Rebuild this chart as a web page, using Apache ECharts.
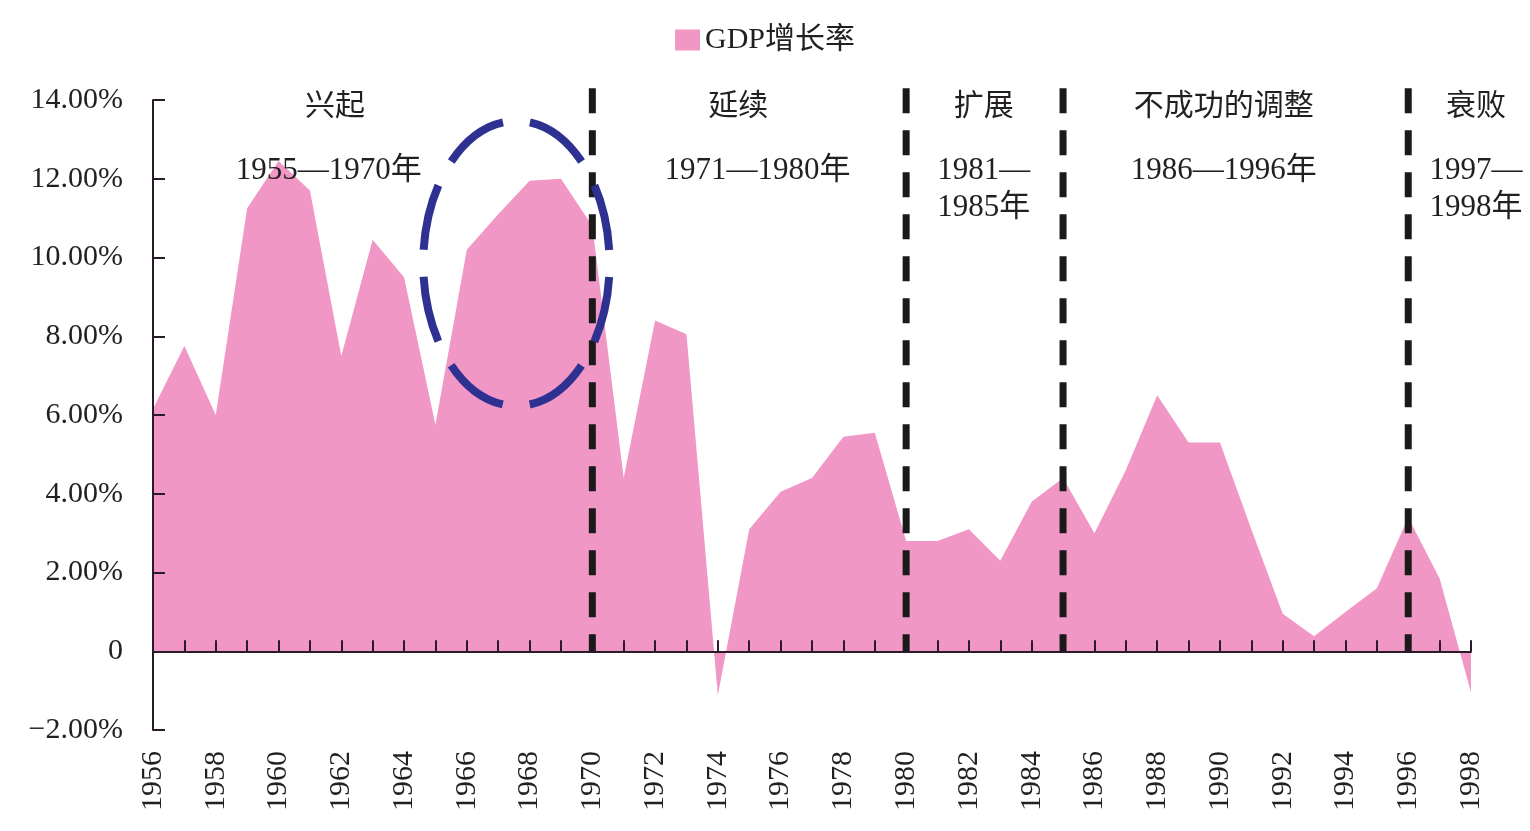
<!DOCTYPE html>
<html>
<head>
<meta charset="utf-8">
<script src="https://cdn.jsdelivr.net/npm/echarts@6/dist/echarts.min.js"></script>
<style>html,body{margin:0;padding:0;background:#fff;}#c{width:1530px;height:831px;}</style>
</head>
<body>
<div id="c"></div>
<script>
const years = [];
for (let y = 1956; y <= 1998; y++) years.push(String(y));
const gdpGrowth = [6.15, 7.75, 6.0, 11.25, 12.45, 11.7, 7.5, 10.45, 9.5, 5.75, 10.2, 11.1, 11.95, 12.0, 10.8,
  4.4, 8.4, 8.05, -1.12, 3.1, 4.05, 4.4, 5.45, 5.55, 2.8, 2.8, 3.1, 2.3, 3.8, 4.4,
  3.0, 4.6, 6.5, 5.3, 5.3, 3.1, 0.95, 0.38, 1.0, 1.6, 3.4, 1.85, -1.05];
const dividerYears = ['1970', '1980', '1985', '1996'];
const periodTitles = ['兴起', '延续', '扩展', '不成功的调整', '衰败'];
const periodRanges = [['1955—1970年'], ['1971—1980年'], ['1981—', '1985年'], ['1986—1996年'], ['1997—', '1998年']];
const seriesName = 'GDP增长率';

const FONT = '"Liberation Serif", "Times New Roman", "Noto Sans CJK SC", serif';
const TXT = '#231F20';
const AX = '#2a1a2a';
const chart = echarts.init(document.getElementById('c'));

const option = {
  animation: false,
  backgroundColor: '#fff',
  textStyle: { fontFamily: FONT },
  legend: {
    top: 20, left: 'center',
    itemWidth: 25, itemHeight: 21, itemGap: 10,
    icon: 'rect',
    textStyle: { fontFamily: FONT, fontSize: 30, color: TXT },
    data: [seriesName]
  },
  grid: { left: 153, right: 59, top: 100, bottom: 101, containLabel: false },
  xAxis: [{
    type: 'category', data: years, boundaryGap: false, z: 5,
    axisLine: { onZero: true, lineStyle: { color: AX, width: 2 } },
    axisTick: { show: true, inside: true, length: 11, interval: 0, lineStyle: { color: AX, width: 2 } },
    axisLabel: { show: false }, splitLine: { show: false }
  }, {
    type: 'category', data: years, boundaryGap: false, position: 'bottom',
    axisLine: { show: false, onZero: false }, axisTick: { show: false },
    axisLabel: { show: true, interval: 1, rotate: 90, margin: 21, fontSize: 30, fontFamily: FONT, color: TXT },
    splitLine: { show: false }
  }],
  yAxis: {
    type: 'value', min: -2, max: 14, interval: 2, z: 5,
    axisLine: { show: true, lineStyle: { color: AX, width: 2 } },
    axisTick: { show: true, inside: true, length: 12, lineStyle: { color: AX, width: 2 } },
    axisLabel: {
      margin: 30, fontSize: 30, fontFamily: FONT, color: TXT, padding: [10, 0, 0, 0],
      formatter: v => v === 0 ? '0' : (v < 0 ? '\u2212' : '') + Math.abs(v).toFixed(2) + '%'
    },
    splitLine: { show: false }
  },
  series: [{
    name: seriesName, type: 'line', xAxisIndex: 0, data: gdpGrowth,
    symbol: 'none', lineStyle: { width: 0, color: '#F197C5' },
    itemStyle: { color: '#F197C5' },
    areaStyle: { color: '#F197C5', opacity: 1 },
    z: 2
  }]
};
chart.setOption(option);

function px(idx, val) {
  const a = chart.convertToPixel({ gridIndex: 0 }, [0, val]);
  const b = chart.convertToPixel({ gridIndex: 0 }, [1, val]);
  return [a[0] + (b[0] - a[0]) * idx, a[1]];
}
const g = [];
// period divider lines
dividerYears.forEach(y => {
  const i = years.indexOf(y);
  const top = px(i, 14.3), bot = px(i, 0);
  g.push({ type: 'line', z: 10, shape: { x1: top[0], y1: top[1], x2: bot[0], y2: bot[1] },
    style: { stroke: '#1a1a1a', lineWidth: 7, lineDash: [25, 17] } });
});
// period annotations
const titleX = [5.8, 18.65, 26.47, 34.12, 42.16];
const rangeX = [5.6, 19.26, 26.47, 34.12, 42.16];
periodTitles.forEach((t, i) => {
  const p = px(titleX[i], 13.82);
  g.push({ type: 'text', x: p[0], y: p[1], z: 12, style: { text: t, font: '30px ' + FONT, fill: TXT, align: 'center', verticalAlign: 'middle' } });
  periodRanges[i].forEach((r, k) => {
    const q = px(rangeX[i], 12.2 - k * 0.95);
    g.push({ type: 'text', x: q[0], y: q[1], z: 12, style: { text: r, font: '31px ' + FONT, fill: TXT, align: 'center', verticalAlign: 'middle' } });
  });
});
// highlight ellipse
const c = px(11.58, 9.85);
const ex = px(11.58 + 2.97, 9.85)[0] - c[0];
const ey = c[1] - px(11.58, 9.85 + 3.62)[1];
const perim = Math.PI * (3 * (ex + ey) - Math.sqrt((3 * ex + ey) * (ex + 3 * ey)));
const period = perim / 8, dashLen = period * 0.71, gapLen = period - dashLen;
g.push({ type: 'ellipse', z: 20, shape: { cx: c[0], cy: c[1], rx: ex, ry: ey },
  style: { fill: 'none', stroke: '#2E3192', lineWidth: 8, lineDash: [dashLen, gapLen], lineDashOffset: dashLen + gapLen / 2 } });
chart.setOption({ graphic: g });
</script>
</body>
</html>
